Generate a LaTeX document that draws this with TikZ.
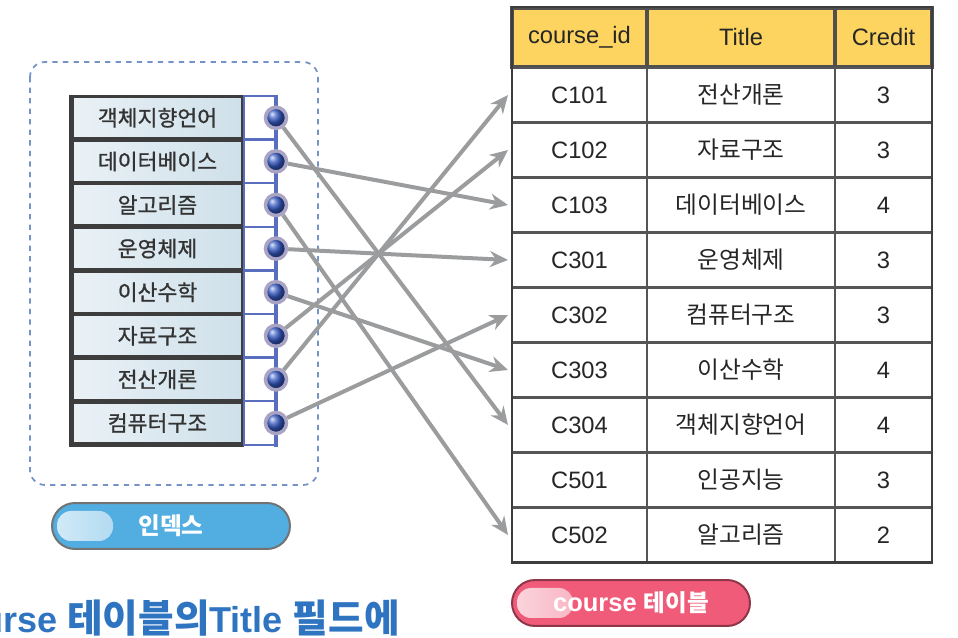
\documentclass[tikz,border=0pt]{standalone}
\usepackage{fontspec}
\setmainfont{Liberation Sans}
\newfontfamily\kr{Noto Sans CJK KR}
\newfontfamily\krmed{Noto Sans CJK KR}[FakeBold=1]
\usetikzlibrary{arrows.meta,positioning}
\definecolor{dashblue}{HTML}{7593C6}
\definecolor{framegray}{HTML}{3D3D3D}
\definecolor{entryblue}{HTML}{CFE0EA}
\definecolor{ptrblue}{HTML}{5A6EC0}
\definecolor{ballblue}{HTML}{3256C0}
\definecolor{glowgray}{HTML}{A9A3C4}
\definecolor{linkgray}{HTML}{9B9C9E}
\definecolor{headyellow}{HTML}{FDD460}
\definecolor{gridgray}{HTML}{555555}
\definecolor{pillblue}{HTML}{52ADE0}
\definecolor{pillpink}{HTML}{EF5B79}
\definecolor{textblue}{HTML}{2F74C0}

\tikzset{
  entry/.style={minimum width=3.34cm, minimum height=0.76cm, inner sep=0,
    left color=white!55!entryblue, right color=entryblue, text=black!80,
    font=\krmed\fontsize{12.3}{14}\selectfont},
  ptrcell/.style={minimum width=0.64cm, minimum height=0.872cm, inner sep=0,
    fill=white, draw=ptrblue, line width=0.05cm},
  ball/.style={circle, minimum size=0.42cm, inner sep=0, ball color=ballblue,
    draw=glowgray, line width=0.07cm},
  hdcell/.style={minimum height=1.18cm, inner sep=0, outer sep=0, fill=headyellow,
    draw=framegray!90, line width=0.07cm, text=black!85,
    font=\fontsize{13.5}{16}\selectfont},
  cell/.style={minimum height=1.1cm, inner sep=0, outer sep=0, fill=white,
    draw=gridgray, line width=0.04cm, text=black!85,
    font=\fontsize{13.5}{16}\selectfont},
  krcell/.style={cell, font=\kr\fontsize{13.5}{16}\selectfont},
  link/.style={draw=linkgray, line width=0.08cm,
    -{Stealth[length=0.36cm,width=0.32cm]}},
  pill/.style={minimum width=4.76cm, minimum height=0.92cm, rounded corners=0.46cm,
    draw=black!55, line width=0.04cm, text=white, inner sep=0,
    font=\bfseries\fontsize{14.5}{16}\selectfont}
}

\begin{document}
\begin{tikzpicture}[x=0.02cm,y=-0.02cm]
  \useasboundingbox (0,0) rectangle (958,638);
  \clip (0,0) rectangle (958,638);

  % index block
  \draw[dashblue, dashed, line width=0.035cm, rounded corners=0.3cm] (30,62) rectangle (318,485);
  \fill[framegray] (69,95) rectangle (244,447);
  \foreach \ttl [count=\i] in {객체지향언어,데이터베이스,알고리즘,운영체제,이산수학,자료구조,전산개론,컴퓨터구조} {
    \node[ptrcell] (p\i) at (260,74.2+43.6*\i) {};
    \node[entry] (e\i) at (157.5,74.2+43.6*\i) {\ttl};
  }
  \draw[ptrblue, line width=0.07cm] (276,95) -- (276,447);
  \foreach \i in {1,...,8}
    \node[ball] (b\i) at (276,74.2+43.6*\i) {};

  % course table
  \node[hdcell, minimum width=2.7cm] (hid) at (579.5,37.5) {course\_id};
  \node[hdcell, minimum width=3.76cm] (httl) at (741,37.5) {Title};
  \node[hdcell, minimum width=1.94cm] (hcr) at (883.5,37.5) {Credit};
  \foreach \cid/\ttl/\cr [count=\i] in {C101/전산개론/3,C102/자료구조/3,C103/데이터베이스/4,
      C301/운영체제/3,C302/컴퓨터구조/3,C303/이산수학/4,C304/객체지향언어/4,
      C501/인공지능/3,C502/알고리즘/2} {
    \node[cell, minimum width=2.7cm] (id\i) at (579.5,40+55*\i) {\cid};
    \node[krcell, minimum width=3.76cm] (ttl\i) at (741,40+55*\i) {\ttl};
    \node[cell, minimum width=1.94cm] (cr\i) at (883.5,40+55*\i) {\cr};
  }
  \draw[framegray, line width=0.05cm] (512,7) rectangle (932,562.5);

  % index -> table rows
  \foreach \s/\t in {1/7,2/3,3/9,4/4,5/6,6/2,7/1,8/5}
    \draw[link] (b\s) -- ([xshift=-0.08cm]id\t.west);

  % labels
  \node[pill, fill=pillblue, path picture={
      \shade[left color=white!75!pillblue, right color=pillblue, rounded corners=0.28cm]
        ([shift={(5,-15)}]path picture bounding box.west) rectangle ++(56,30);}]
    (idxlabel) at (171,526) {\kr\fontsize{13.4}{16}\selectfont 인덱스};
  \node[pill, fill=pillpink, draw=pillpink!60!black, path picture={
      \shade[left color=white!75!pillpink, right color=pillpink, rounded corners=0.28cm]
        ([shift={(5,-15)}]path picture bounding box.west) rectangle ++(56,30);}]
    (tbllabel) at (631,603) {course {\kr\fontsize{13.4}{16}\selectfont 테이블}};

  \node[anchor=east, inner sep=0, text=textblue, font=\bfseries\fontsize{20.5}{22}\selectfont]
    (caption) at (400,618) {course {\kr\fontsize{22}{24}\selectfont 테이블의}Title {\kr\fontsize{22}{24}\selectfont 필드에}};
\end{tikzpicture}
\end{document}
